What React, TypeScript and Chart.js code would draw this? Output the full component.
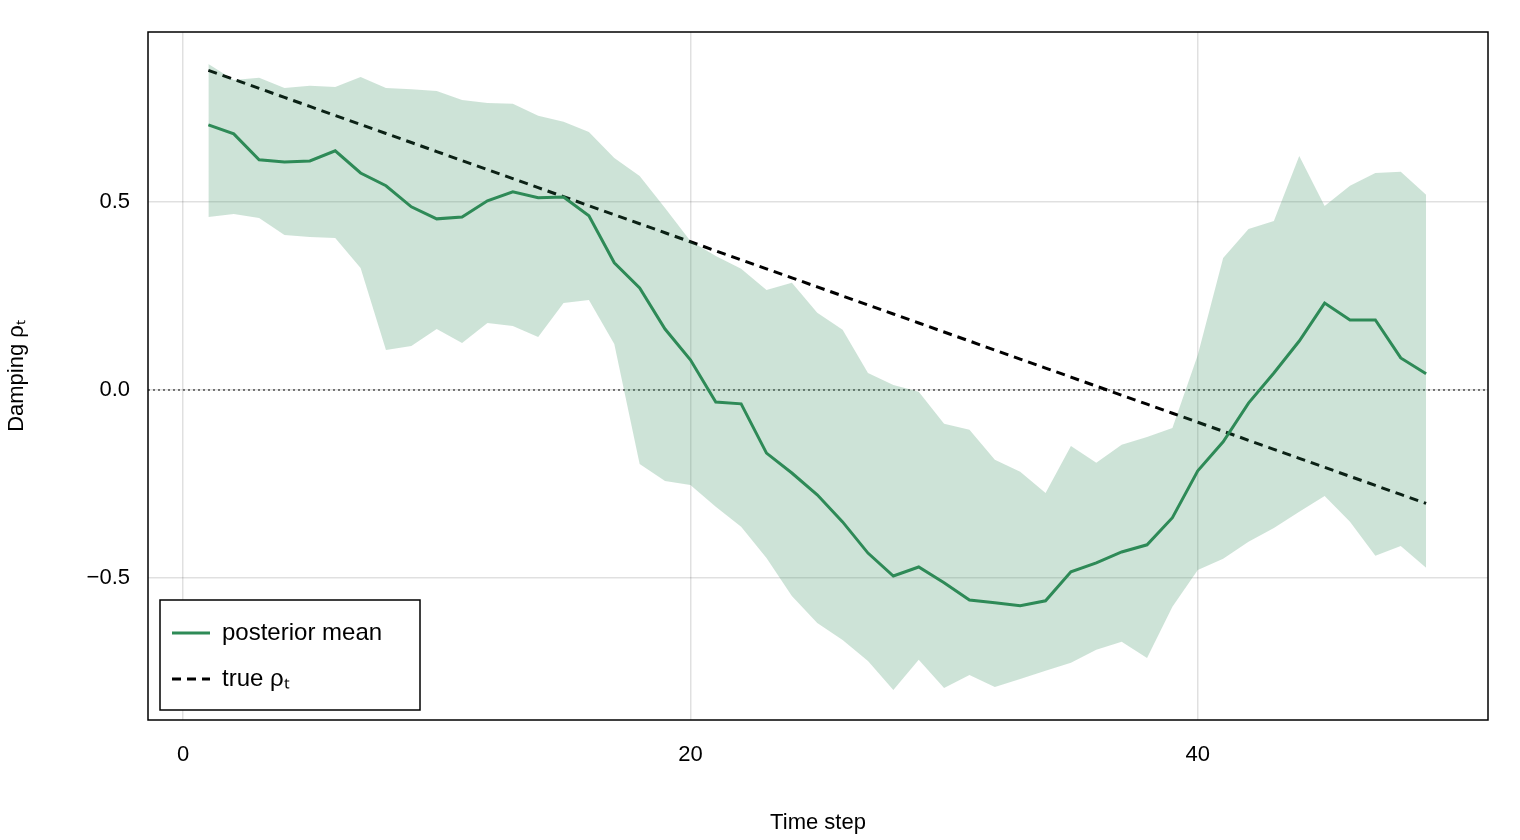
import React, { useRef, useEffect } from 'react';
import { Chart, registerables } from 'chart.js';

Chart.register(...registerables);

const steps = Array.from({ length: 49 }, (_, i) => i + 1);

const meanValues = [
  0.705, 0.681, 0.612, 0.606, 0.609, 0.636, 0.577, 0.543, 0.487, 0.455,
  0.46, 0.503, 0.527, 0.511, 0.513, 0.463, 0.338, 0.271, 0.162, 0.08,
  -0.032, -0.037, -0.168, -0.221, -0.279, -0.351, -0.434, -0.495, -0.471, -0.513,
  -0.559, -0.566, -0.574, -0.561, -0.484, -0.46, -0.431, -0.412, -0.34, -0.215,
  -0.138, -0.035, 0.045, 0.13, 0.231, 0.186, 0.186, 0.085, 0.043,
];

const upperValues = [
  0.867, 0.824, 0.83, 0.803, 0.809, 0.806, 0.832, 0.803, 0.8, 0.795,
  0.771, 0.763, 0.761, 0.729, 0.713, 0.686, 0.617, 0.569, 0.484, 0.396,
  0.356, 0.322, 0.266, 0.285, 0.205, 0.16, 0.045, 0.013, -0.005, -0.09,
  -0.106, -0.186, -0.218, -0.274, -0.149, -0.194, -0.146, -0.125, -0.101, 0.093,
  0.351, 0.428, 0.449, 0.622, 0.489, 0.543, 0.577, 0.58, 0.519,
];

const lowerValues = [
  0.46, 0.468, 0.457, 0.412, 0.407, 0.404, 0.324, 0.106, 0.117, 0.162,
  0.125, 0.178, 0.17, 0.141, 0.231, 0.239, 0.122, -0.197, -0.242, -0.253,
  -0.311, -0.364, -0.447, -0.548, -0.62, -0.665, -0.721, -0.798, -0.718, -0.793,
  -0.758, -0.79, -0.769, -0.747, -0.726, -0.691, -0.67, -0.713, -0.577, -0.479,
  -0.449, -0.404, -0.367, -0.324, -0.282, -0.351, -0.441, -0.415, -0.473,
];

const trueValues = [
  0.85, 0.826, 0.802, 0.778, 0.754, 0.73, 0.706, 0.682, 0.658, 0.634,
  0.61, 0.586, 0.562, 0.538, 0.514, 0.49, 0.466, 0.442, 0.418, 0.394,
  0.37, 0.346, 0.322, 0.298, 0.274, 0.25, 0.226, 0.202, 0.178, 0.154,
  0.13, 0.106, 0.082, 0.058, 0.034, 0.01, -0.014, -0.038, -0.062, -0.086,
  -0.11, -0.134, -0.158, -0.182, -0.206, -0.23, -0.254, -0.278, -0.302,
];

const xTicks = [0, 20, 40];
const yTicks = [-0.5, 0, 0.5];

const GREEN = '#2e8b57';
const FONT = '"Liberation Sans", Arial, sans-serif';

const pts = (ys: number[]) => steps.map((x, i) => ({ x, y: ys[i] }));

const frame = {
  id: 'frame',
  beforeDatasetsDraw(chart: any) {
    const { ctx, chartArea: a, scales } = chart;
    const y0 = scales.y.getPixelForValue(0);
    ctx.save();
    ctx.strokeStyle = 'rgba(0,0,0,0.5)';
    ctx.lineWidth = 2;
    ctx.setLineDash([2, 3]);
    ctx.beginPath();
    ctx.moveTo(a.left, y0);
    ctx.lineTo(a.right, y0);
    ctx.stroke();
    ctx.restore();
  },
  afterDraw(chart: any) {
    const { ctx, chartArea: a } = chart;
    ctx.save();
    ctx.strokeStyle = '#000';
    ctx.lineWidth = 1.5;
    ctx.strokeRect(a.left, a.top, a.right - a.left, a.bottom - a.top);
    // legend
    const bx = a.left + 12, by = a.bottom - 120, bw = 260, bh = 110;
    ctx.fillStyle = '#fff';
    ctx.fillRect(bx, by, bw, bh);
    ctx.strokeRect(bx, by, bw, bh);
    ctx.lineWidth = 3;
    ctx.strokeStyle = GREEN;
    ctx.beginPath();
    ctx.moveTo(bx + 12, by + 33);
    ctx.lineTo(bx + 50, by + 33);
    ctx.stroke();
    ctx.strokeStyle = '#000';
    ctx.setLineDash([9, 6]);
    ctx.beginPath();
    ctx.moveTo(bx + 12, by + 79);
    ctx.lineTo(bx + 50, by + 79);
    ctx.stroke();
    ctx.setLineDash([]);
    ctx.fillStyle = '#000';
    ctx.font = `24px ${FONT}`;
    ctx.textBaseline = 'middle';
    ctx.fillText('posterior mean', bx + 62, by + 33);
    ctx.fillText('true ρₜ', bx + 62, by + 79);
    ctx.restore();
  },
};

const App: React.FC = () => {
  const chartRef = useRef<HTMLCanvasElement>(null);
  const chartInstance = useRef<Chart | null>(null);

  useEffect(() => {
    document.body.style.margin = '0';
    if (!chartRef.current) return;
    if (chartInstance.current) chartInstance.current.destroy();
    const ctx = chartRef.current.getContext('2d');
    if (!ctx) return;

    chartInstance.current = new Chart(ctx, {
      type: 'line',
      data: {
        datasets: [
          {
            label: 'lower',
            data: pts(lowerValues),
            borderWidth: 0,
            pointRadius: 0,
            fill: false,
          },
          {
            label: 'upper',
            data: pts(upperValues),
            borderWidth: 0,
            pointRadius: 0,
            backgroundColor: 'rgba(46,139,87,0.24)',
            fill: '-1',
          },
          {
            label: 'posterior mean',
            data: pts(meanValues),
            borderColor: GREEN,
            borderWidth: 3,
            pointRadius: 0,
            fill: false,
          },
          {
            label: 'true ρt',
            data: pts(trueValues),
            borderColor: '#000',
            borderWidth: 3,
            borderDash: [9, 6],
            pointRadius: 0,
            fill: false,
          },
        ],
      },
      options: {
        animation: false,
        responsive: false,
        layout: { padding: { top: 32, right: 32, left: 0, bottom: 0 } },
        plugins: { legend: { display: false }, tooltip: { enabled: false } },
        scales: {
          x: {
            type: 'linear',
            min: -1.38,
            max: 51.44,
            afterBuildTicks: (s: any) => { s.ticks = xTicks.map(v => ({ value: v })); },
            afterFit: (s: any) => { s.height = 120; },
            grid: { color: 'rgba(0,0,0,0.12)', drawTicks: false, lineWidth: 1.5 },
            border: { display: false },
            ticks: { color: '#000', padding: 22, font: { size: 22, family: FONT } },
            title: { display: true, text: 'Time step', color: '#000', font: { size: 22, family: FONT }, padding: { top: 4 } },
          },
          y: {
            type: 'linear',
            min: -0.878,
            max: 0.952,
            afterBuildTicks: (s: any) => { s.ticks = yTicks.map(v => ({ value: v })); },
            afterFit: (s: any) => { s.width = 148; },
            grid: { color: 'rgba(0,0,0,0.12)', drawTicks: false, lineWidth: 1.5 },
            border: { display: false },
            ticks: {
              color: '#000',
              padding: 18,
              font: { size: 22, family: FONT },
              callback: (v: any) => (v < 0 ? '−' : '') + Math.abs(Number(v)).toFixed(1),
            },
            title: { display: true, text: 'Damping ρₜ', color: '#000', font: { size: 22, family: FONT }, padding: { bottom: 4 } },
          },
        },
      },
      plugins: [frame],
    });

    return () => {
      if (chartInstance.current) {
        chartInstance.current.destroy();
        chartInstance.current = null;
      }
    };
  }, []);

  return (
    <div style={{ width: 1520, height: 840, background: '#fff' }}>
      <canvas ref={chartRef} width={1520} height={840} style={{ width: 1520, height: 840 }} />
    </div>
  );
};

export default App;
